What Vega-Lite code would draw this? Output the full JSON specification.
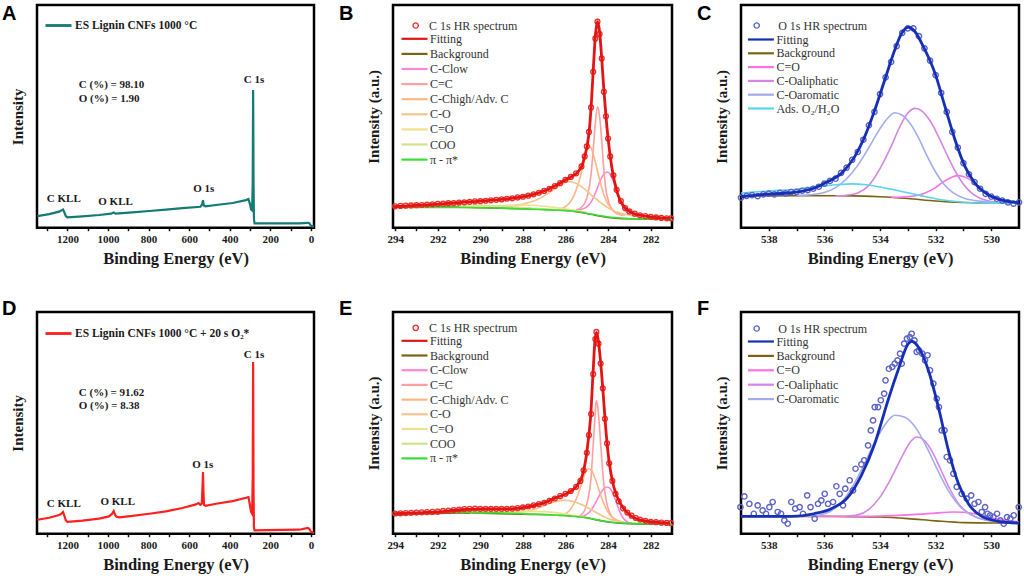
{
  "$schema": "https://vega.github.io/schema/vega-lite/v6.json",
  "background": "white",
  "padding": {"left": 0, "top": 2, "right": 0, "bottom": 0},
  "config": {
    "view": {"stroke": "black", "strokeWidth": 2.5},
    "axis": {"grid": false, "domain": false, "labelFont": "Liberation Serif", "labelFontWeight": "bold", "labelFontSize": 11, "labelColor": "#1a1a1a", "titleFont": "Liberation Serif", "titleFontWeight": "bold", "titleColor": "#1a1a1a", "tickColor": "#111111", "tickWidth": 1.5, "tickSize": 3},
    "axisX": {"titleFontSize": 16.5, "labelPadding": 3, "titlePadding": 6, "labelFlush": false, "labelOverlap": false},
    "axisY": {"titleFontSize": 15, "labels": false, "ticks": false, "titlePadding": 12},
    "legend": {"labelFont": "Liberation Serif", "labelFontSize": 12, "labelColor": "#333333", "symbolSize": 100, "rowPadding": 1.5, "labelOffset": 4, "padding": 0, "labelLimit": 300},
    "title": {"font": "Liberation Sans", "fontSize": 20, "fontWeight": "bold", "color": "black", "anchor": "start", "frame": "bounds"},
    "text": {"font": "Liberation Serif", "fontWeight": "bold", "fontSize": 11, "color": "#1a1a1a", "baseline": "middle"}
  },
  "datasets": {
    "surveyA": [
      {"s":"ES Lignin CNFs 1000 °C","x":1348,"y":5.2},{"s":"ES Lignin CNFs 1000 °C","x":1290,"y":6.1},{"s":"ES Lignin CNFs 1000 °C","x":1241,"y":7.2},{"s":"ES Lignin CNFs 1000 °C","x":1228,"y":7.9},{"s":"ES Lignin CNFs 1000 °C","x":1222,"y":8.2},{"s":"ES Lignin CNFs 1000 °C","x":1215,"y":6.8},{"s":"ES Lignin CNFs 1000 °C","x":1208,"y":5.2},{"s":"ES Lignin CNFs 1000 °C","x":1200,"y":4.6},{"s":"ES Lignin CNFs 1000 °C","x":1126,"y":5.1},{"s":"ES Lignin CNFs 1000 °C","x":1044,"y":5.7},{"s":"ES Lignin CNFs 1000 °C","x":985,"y":6.3},{"s":"ES Lignin CNFs 1000 °C","x":972,"y":6.8},{"s":"ES Lignin CNFs 1000 °C","x":962,"y":6.3},{"s":"ES Lignin CNFs 1000 °C","x":880,"y":6.9},{"s":"ES Lignin CNFs 1000 °C","x":797,"y":7.5},{"s":"ES Lignin CNFs 1000 °C","x":715,"y":8.1},{"s":"ES Lignin CNFs 1000 °C","x":633,"y":8.8},{"s":"ES Lignin CNFs 1000 °C","x":545,"y":9.4},{"s":"ES Lignin CNFs 1000 °C","x":536,"y":10.5},{"s":"ES Lignin CNFs 1000 °C","x":532,"y":12.4},{"s":"ES Lignin CNFs 1000 °C","x":528,"y":10.0},{"s":"ES Lignin CNFs 1000 °C","x":520,"y":9.6},{"s":"ES Lignin CNFs 1000 °C","x":468,"y":10.2},{"s":"ES Lignin CNFs 1000 °C","x":386,"y":11.1},{"s":"ES Lignin CNFs 1000 °C","x":320,"y":12.4},{"s":"ES Lignin CNFs 1000 °C","x":308,"y":12.9},{"s":"ES Lignin CNFs 1000 °C","x":300,"y":10.5},{"s":"ES Lignin CNFs 1000 °C","x":295,"y":8.2},{"s":"ES Lignin CNFs 1000 °C","x":290,"y":7.8},{"s":"ES Lignin CNFs 1000 °C","x":287,"y":20},{"s":"ES Lignin CNFs 1000 °C","x":285,"y":61.8},{"s":"ES Lignin CNFs 1000 °C","x":284,"y":45},{"s":"ES Lignin CNFs 1000 °C","x":283,"y":20},{"s":"ES Lignin CNFs 1000 °C","x":281,"y":4},{"s":"ES Lignin CNFs 1000 °C","x":278,"y":1.9},{"s":"ES Lignin CNFs 1000 °C","x":222,"y":1.9},{"s":"ES Lignin CNFs 1000 °C","x":57,"y":1.9},{"s":"ES Lignin CNFs 1000 °C","x":16,"y":2.2},{"s":"ES Lignin CNFs 1000 °C","x":8,"y":2.0},{"s":"ES Lignin CNFs 1000 °C","x":0,"y":0.8},{"s":"ES Lignin CNFs 1000 °C","x":-15,"y":0.4}
    ],
    "annA": [
      {"k":"comp","x":1144,"y":64.1,"t":"C (%) = 98.10"},{"k":"comp","x":1144,"y":57.7,"t":"O (%) = 1.90"},{"k":"peak","x":281,"y":66.3,"t":"C 1s"},{"k":"peak","x":1218,"y":13.0,"t":"C KLL"},{"k":"peak","x":963,"y":11.4,"t":"O KLL"},{"k":"peak","x":528,"y":17.2,"t":"O 1s"}
    ],
    "surveyD": [
      {"s":"ES Lignin CNFs 1000 °C + 20 s O₂*","x":1348,"y":6.3},{"s":"ES Lignin CNFs 1000 °C + 20 s O₂*","x":1290,"y":7.2},{"s":"ES Lignin CNFs 1000 °C + 20 s O₂*","x":1241,"y":8.4},{"s":"ES Lignin CNFs 1000 °C + 20 s O₂*","x":1228,"y":9.2},{"s":"ES Lignin CNFs 1000 °C + 20 s O₂*","x":1222,"y":9.8},{"s":"ES Lignin CNFs 1000 °C + 20 s O₂*","x":1215,"y":8.0},{"s":"ES Lignin CNFs 1000 °C + 20 s O₂*","x":1208,"y":6.0},{"s":"ES Lignin CNFs 1000 °C + 20 s O₂*","x":1200,"y":5.3},{"s":"ES Lignin CNFs 1000 °C + 20 s O₂*","x":1126,"y":5.9},{"s":"ES Lignin CNFs 1000 °C + 20 s O₂*","x":1044,"y":6.8},{"s":"ES Lignin CNFs 1000 °C + 20 s O₂*","x":995,"y":7.8},{"s":"ES Lignin CNFs 1000 °C + 20 s O₂*","x":980,"y":9.0},{"s":"ES Lignin CNFs 1000 °C + 20 s O₂*","x":972,"y":10.2},{"s":"ES Lignin CNFs 1000 °C + 20 s O₂*","x":965,"y":8.5},{"s":"ES Lignin CNFs 1000 °C + 20 s O₂*","x":958,"y":7.6},{"s":"ES Lignin CNFs 1000 °C + 20 s O₂*","x":945,"y":7.4},{"s":"ES Lignin CNFs 1000 °C + 20 s O₂*","x":880,"y":8.0},{"s":"ES Lignin CNFs 1000 °C + 20 s O₂*","x":797,"y":9.0},{"s":"ES Lignin CNFs 1000 °C + 20 s O₂*","x":715,"y":10.1},{"s":"ES Lignin CNFs 1000 °C + 20 s O₂*","x":633,"y":11.6},{"s":"ES Lignin CNFs 1000 °C + 20 s O₂*","x":567,"y":13.2},{"s":"ES Lignin CNFs 1000 °C + 20 s O₂*","x":554,"y":13.8},{"s":"ES Lignin CNFs 1000 °C + 20 s O₂*","x":545,"y":13.0},{"s":"ES Lignin CNFs 1000 °C + 20 s O₂*","x":538,"y":13.5},{"s":"ES Lignin CNFs 1000 °C + 20 s O₂*","x":534,"y":22},{"s":"ES Lignin CNFs 1000 °C + 20 s O₂*","x":532,"y":27.8},{"s":"ES Lignin CNFs 1000 °C + 20 s O₂*","x":530,"y":20},{"s":"ES Lignin CNFs 1000 °C + 20 s O₂*","x":527,"y":13.0},{"s":"ES Lignin CNFs 1000 °C + 20 s O₂*","x":520,"y":12.6},{"s":"ES Lignin CNFs 1000 °C + 20 s O₂*","x":468,"y":13.5},{"s":"ES Lignin CNFs 1000 °C + 20 s O₂*","x":386,"y":14.7},{"s":"ES Lignin CNFs 1000 °C + 20 s O₂*","x":320,"y":16.2},{"s":"ES Lignin CNFs 1000 °C + 20 s O₂*","x":308,"y":16.5},{"s":"ES Lignin CNFs 1000 °C + 20 s O₂*","x":300,"y":12.5},{"s":"ES Lignin CNFs 1000 °C + 20 s O₂*","x":295,"y":9.8},{"s":"ES Lignin CNFs 1000 °C + 20 s O₂*","x":290,"y":9.0},{"s":"ES Lignin CNFs 1000 °C + 20 s O₂*","x":287,"y":25},{"s":"ES Lignin CNFs 1000 °C + 20 s O₂*","x":285,"y":77.4},{"s":"ES Lignin CNFs 1000 °C + 20 s O₂*","x":284,"y":50},{"s":"ES Lignin CNFs 1000 °C + 20 s O₂*","x":283,"y":20},{"s":"ES Lignin CNFs 1000 °C + 20 s O₂*","x":281,"y":3},{"s":"ES Lignin CNFs 1000 °C + 20 s O₂*","x":278,"y":1.5},{"s":"ES Lignin CNFs 1000 °C + 20 s O₂*","x":222,"y":1.6},{"s":"ES Lignin CNFs 1000 °C + 20 s O₂*","x":57,"y":1.8},{"s":"ES Lignin CNFs 1000 °C + 20 s O₂*","x":16,"y":2.6},{"s":"ES Lignin CNFs 1000 °C + 20 s O₂*","x":8,"y":2.2},{"s":"ES Lignin CNFs 1000 °C + 20 s O₂*","x":0,"y":0.9},{"s":"ES Lignin CNFs 1000 °C + 20 s O₂*","x":-15,"y":0.3}
    ],
    "annD": [
      {"k":"comp","x":1144,"y":63.6,"t":"C (%) = 91.62"},{"k":"comp","x":1144,"y":57.4,"t":"O (%) = 8.38"},{"k":"peak","x":281,"y":80.7,"t":"C 1s"},{"k":"peak","x":533,"y":30.8,"t":"O 1s"},{"k":"peak","x":1218,"y":13.2,"t":"C KLL"},{"k":"peak","x":952,"y":14.3,"t":"O KLL"}
    ],
    "c1sB": [
      {"s":"C 1s HR spectrum","x":294.0,"y":9.6},{"s":"C 1s HR spectrum","x":293.75,"y":9.8},{"s":"C 1s HR spectrum","x":293.5,"y":9.9},{"s":"C 1s HR spectrum","x":293.25,"y":10.0},{"s":"C 1s HR spectrum","x":293.0,"y":10.1},{"s":"C 1s HR spectrum","x":292.75,"y":10.2},{"s":"C 1s HR spectrum","x":292.5,"y":10.4},{"s":"C 1s HR spectrum","x":292.25,"y":10.5},{"s":"C 1s HR spectrum","x":292.0,"y":10.7},{"s":"C 1s HR spectrum","x":291.75,"y":10.8},{"s":"C 1s HR spectrum","x":291.5,"y":11.0},{"s":"C 1s HR spectrum","x":291.25,"y":11.1},{"s":"C 1s HR spectrum","x":291.0,"y":11.3},{"s":"C 1s HR spectrum","x":290.75,"y":11.4},{"s":"C 1s HR spectrum","x":290.5,"y":11.6},{"s":"C 1s HR spectrum","x":290.25,"y":11.8},{"s":"C 1s HR spectrum","x":290.0,"y":11.9},{"s":"C 1s HR spectrum","x":289.75,"y":12.1},{"s":"C 1s HR spectrum","x":289.5,"y":12.3},{"s":"C 1s HR spectrum","x":289.25,"y":12.5},{"s":"C 1s HR spectrum","x":289.0,"y":12.7},{"s":"C 1s HR spectrum","x":288.75,"y":13.0},{"s":"C 1s HR spectrum","x":288.5,"y":13.2},{"s":"C 1s HR spectrum","x":288.25,"y":13.6},{"s":"C 1s HR spectrum","x":288.0,"y":13.9},{"s":"C 1s HR spectrum","x":287.75,"y":14.4},{"s":"C 1s HR spectrum","x":287.5,"y":15.0},{"s":"C 1s HR spectrum","x":287.25,"y":15.7},{"s":"C 1s HR spectrum","x":287.0,"y":16.5},{"s":"C 1s HR spectrum","x":286.75,"y":17.5},{"s":"C 1s HR spectrum","x":286.5,"y":18.7},{"s":"C 1s HR spectrum","x":286.25,"y":20.0},{"s":"C 1s HR spectrum","x":286.0,"y":21.5},{"s":"C 1s HR spectrum","x":285.75,"y":22.8},{"s":"C 1s HR spectrum","x":285.5,"y":24.4},{"s":"C 1s HR spectrum","x":285.25,"y":27.5},{"s":"C 1s HR spectrum","x":285.1,"y":32.0},{"s":"C 1s HR spectrum","x":285.0,"y":36.5},{"s":"C 1s HR spectrum","x":284.9,"y":43.0},{"s":"C 1s HR spectrum","x":284.8,"y":54.0},{"s":"C 1s HR spectrum","x":284.7,"y":70.0},{"s":"C 1s HR spectrum","x":284.6,"y":85.0},{"s":"C 1s HR spectrum","x":284.5,"y":92.5},{"s":"C 1s HR spectrum","x":284.4,"y":87.0},{"s":"C 1s HR spectrum","x":284.3,"y":76.0},{"s":"C 1s HR spectrum","x":284.2,"y":61.0},{"s":"C 1s HR spectrum","x":284.1,"y":50.0},{"s":"C 1s HR spectrum","x":284.0,"y":40.0},{"s":"C 1s HR spectrum","x":283.9,"y":32.0},{"s":"C 1s HR spectrum","x":283.75,"y":23.5},{"s":"C 1s HR spectrum","x":283.6,"y":17.0},{"s":"C 1s HR spectrum","x":283.4,"y":12.0},{"s":"C 1s HR spectrum","x":283.2,"y":8.8},{"s":"C 1s HR spectrum","x":283.0,"y":7.3},{"s":"C 1s HR spectrum","x":282.75,"y":6.3},{"s":"C 1s HR spectrum","x":282.5,"y":5.6},{"s":"C 1s HR spectrum","x":282.25,"y":5.2},{"s":"C 1s HR spectrum","x":282.0,"y":4.9},{"s":"C 1s HR spectrum","x":281.75,"y":4.6},{"s":"C 1s HR spectrum","x":281.5,"y":4.4},{"s":"C 1s HR spectrum","x":281.25,"y":4.2},{"s":"C 1s HR spectrum","x":281.05,"y":4.2},
      {"s":"Fitting","x":294.08,"y":9.4},{"s":"Fitting","x":293,"y":10.0},{"s":"Fitting","x":292,"y":10.6},{"s":"Fitting","x":291,"y":11.3},{"s":"Fitting","x":290,"y":11.9},{"s":"Fitting","x":289,"y":12.7},{"s":"Fitting","x":288,"y":13.9},{"s":"Fitting","x":287.5,"y":15.0},{"s":"Fitting","x":287,"y":16.5},{"s":"Fitting","x":286.5,"y":18.7},{"s":"Fitting","x":286,"y":21.5},{"s":"Fitting","x":285.7,"y":23.0},{"s":"Fitting","x":285.43,"y":25.0},{"s":"Fitting","x":285.2,"y":28.5},{"s":"Fitting","x":285.1,"y":32.0},{"s":"Fitting","x":284.97,"y":37.5},{"s":"Fitting","x":284.87,"y":45.0},{"s":"Fitting","x":284.78,"y":57.0},{"s":"Fitting","x":284.69,"y":72.0},{"s":"Fitting","x":284.6,"y":86.0},{"s":"Fitting","x":284.5,"y":92.5},{"s":"Fitting","x":284.4,"y":88.0},{"s":"Fitting","x":284.3,"y":76.0},{"s":"Fitting","x":284.2,"y":62.0},{"s":"Fitting","x":284.1,"y":50.0},{"s":"Fitting","x":284.0,"y":40.0},{"s":"Fitting","x":283.83,"y":27.4},{"s":"Fitting","x":283.56,"y":15.4},{"s":"Fitting","x":283.25,"y":9.4},{"s":"Fitting","x":282.79,"y":6.4},{"s":"Fitting","x":282.01,"y":4.9},{"s":"Fitting","x":281.06,"y":4.2},
      {"s":"Background","x":294.1,"y":9.6},{"s":"Background","x":292,"y":9.4},{"s":"Background","x":290,"y":9.0},{"s":"Background","x":288,"y":8.5},{"s":"Background","x":286.5,"y":8.0},{"s":"Background","x":285.8,"y":7.5},{"s":"Background","x":285,"y":6.4},{"s":"Background","x":284.5,"y":5.4},{"s":"Background","x":284,"y":4.6},{"s":"Background","x":283,"y":4.0},{"s":"Background","x":281,"y":3.8},
      {"s":"C-Clow","x":285.4,"y":8.0},{"s":"C-Clow","x":285.2,"y":8.4},{"s":"C-Clow","x":285.0,"y":9.3},{"s":"C-Clow","x":284.8,"y":11.5},{"s":"C-Clow","x":284.6,"y":15.5},{"s":"C-Clow","x":284.4,"y":20.5},{"s":"C-Clow","x":284.2,"y":24.0},{"s":"C-Clow","x":284.05,"y":25.0},{"s":"C-Clow","x":283.9,"y":24.0},{"s":"C-Clow","x":283.7,"y":19.5},{"s":"C-Clow","x":283.5,"y":13.5},{"s":"C-Clow","x":283.3,"y":9.0},{"s":"C-Clow","x":283.1,"y":6.6},{"s":"C-Clow","x":282.9,"y":5.6},{"s":"C-Clow","x":282.6,"y":5.0},
      {"s":"C=C","x":285.5,"y":8.0},{"s":"C=C","x":285.3,"y":8.8},{"s":"C=C","x":285.1,"y":11.0},{"s":"C=C","x":284.95,"y":15.0},{"s":"C=C","x":284.8,"y":24.0},{"s":"C=C","x":284.7,"y":35.0},{"s":"C=C","x":284.6,"y":47.0},{"s":"C=C","x":284.5,"y":54.3},{"s":"C=C","x":284.4,"y":50.0},{"s":"C=C","x":284.3,"y":39.0},{"s":"C=C","x":284.2,"y":26.0},{"s":"C=C","x":284.1,"y":17.0},{"s":"C=C","x":283.95,"y":11.0},{"s":"C=C","x":283.8,"y":8.0},{"s":"C=C","x":283.6,"y":6.3},{"s":"C=C","x":283.3,"y":5.5},
      {"s":"C-Chigh/Adv. C","x":286.3,"y":8.3},{"s":"C-Chigh/Adv. C","x":286.0,"y":9.5},{"s":"C-Chigh/Adv. C","x":285.8,"y":11.3},{"s":"C-Chigh/Adv. C","x":285.6,"y":14.5},{"s":"C-Chigh/Adv. C","x":285.4,"y":19.8},{"s":"C-Chigh/Adv. C","x":285.2,"y":26.8},{"s":"C-Chigh/Adv. C","x":285.05,"y":33.5},{"s":"C-Chigh/Adv. C","x":284.93,"y":37.1},{"s":"C-Chigh/Adv. C","x":284.8,"y":35.8},{"s":"C-Chigh/Adv. C","x":284.6,"y":29.5},{"s":"C-Chigh/Adv. C","x":284.4,"y":21.5},{"s":"C-Chigh/Adv. C","x":284.2,"y":14.8},{"s":"C-Chigh/Adv. C","x":284.0,"y":10.6},{"s":"C-Chigh/Adv. C","x":283.8,"y":8.1},{"s":"C-Chigh/Adv. C","x":283.5,"y":6.4},{"s":"C-Chigh/Adv. C","x":283.2,"y":5.6},
      {"s":"C-O","x":288.4,"y":10.0},{"s":"C-O","x":288.0,"y":10.6},{"s":"C-O","x":287.6,"y":11.6},{"s":"C-O","x":287.2,"y":13.2},{"s":"C-O","x":286.8,"y":15.5},{"s":"C-O","x":286.4,"y":18.2},{"s":"C-O","x":286.1,"y":20.0},{"s":"C-O","x":285.9,"y":20.7},{"s":"C-O","x":285.6,"y":20.3},{"s":"C-O","x":285.3,"y":18.8},{"s":"C-O","x":285.0,"y":16.5},{"s":"C-O","x":284.7,"y":14.0},{"s":"C-O","x":284.4,"y":11.6},{"s":"C-O","x":284.1,"y":9.5},{"s":"C-O","x":283.8,"y":7.9},{"s":"C-O","x":283.5,"y":6.8},{"s":"C-O","x":283.1,"y":5.8},{"s":"C-O","x":282.7,"y":5.2},
      {"s":"C=O","x":291,"y":9.3},{"s":"C=O","x":290,"y":9.5},{"s":"C=O","x":289,"y":9.9},{"s":"C=O","x":288.3,"y":10.2},{"s":"C=O","x":287.6,"y":10.1},{"s":"C=O","x":287,"y":9.6},{"s":"C=O","x":286.3,"y":8.8},{"s":"C=O","x":285.6,"y":7.8},{"s":"C=O","x":285,"y":6.9},
      {"s":"COO","x":293.5,"y":9.5},{"s":"COO","x":292.5,"y":9.8},{"s":"COO","x":291.5,"y":10.1},{"s":"COO","x":290.5,"y":10.2},{"s":"COO","x":289.5,"y":10.0},{"s":"COO","x":288.5,"y":9.4},{"s":"COO","x":287.5,"y":8.7},{"s":"COO","x":286.5,"y":8.1},{"s":"COO","x":285.5,"y":7.4},
      {"s":"π - π*","x":294.1,"y":9.1},{"s":"π - π*","x":292,"y":9.1},{"s":"π - π*","x":290.5,"y":9.1},{"s":"π - π*","x":289,"y":8.8},{"s":"π - π*","x":287.5,"y":8.3},{"s":"π - π*","x":286.5,"y":7.9},{"s":"π - π*","x":285.8,"y":7.6},{"s":"π - π*","x":285,"y":6.5},{"s":"π - π*","x":284.5,"y":5.6},{"s":"π - π*","x":284,"y":4.8},{"s":"π - π*","x":283.2,"y":4.2},{"s":"π - π*","x":282,"y":3.9},{"s":"π - π*","x":281,"y":3.8}
    ],
    "c1sE": [
      {"s":"C 1s HR spectrum","x":294.0,"y":8.6},{"s":"C 1s HR spectrum","x":293.75,"y":8.7},{"s":"C 1s HR spectrum","x":293.5,"y":8.8},{"s":"C 1s HR spectrum","x":293.25,"y":8.9},{"s":"C 1s HR spectrum","x":293.0,"y":9.0},{"s":"C 1s HR spectrum","x":292.75,"y":9.1},{"s":"C 1s HR spectrum","x":292.5,"y":9.2},{"s":"C 1s HR spectrum","x":292.25,"y":9.3},{"s":"C 1s HR spectrum","x":292.0,"y":9.4},{"s":"C 1s HR spectrum","x":291.75,"y":9.7},{"s":"C 1s HR spectrum","x":291.5,"y":9.9},{"s":"C 1s HR spectrum","x":291.25,"y":10.1},{"s":"C 1s HR spectrum","x":291.0,"y":10.3},{"s":"C 1s HR spectrum","x":290.75,"y":10.5},{"s":"C 1s HR spectrum","x":290.5,"y":10.6},{"s":"C 1s HR spectrum","x":290.25,"y":10.7},{"s":"C 1s HR spectrum","x":290.0,"y":10.6},{"s":"C 1s HR spectrum","x":289.75,"y":10.6},{"s":"C 1s HR spectrum","x":289.5,"y":10.6},{"s":"C 1s HR spectrum","x":289.25,"y":10.6},{"s":"C 1s HR spectrum","x":289.0,"y":10.6},{"s":"C 1s HR spectrum","x":288.75,"y":10.6},{"s":"C 1s HR spectrum","x":288.5,"y":10.7},{"s":"C 1s HR spectrum","x":288.25,"y":10.9},{"s":"C 1s HR spectrum","x":288.0,"y":11.2},{"s":"C 1s HR spectrum","x":287.75,"y":11.6},{"s":"C 1s HR spectrum","x":287.5,"y":12.1},{"s":"C 1s HR spectrum","x":287.25,"y":12.6},{"s":"C 1s HR spectrum","x":287.0,"y":13.2},{"s":"C 1s HR spectrum","x":286.75,"y":14.0},{"s":"C 1s HR spectrum","x":286.5,"y":15.0},{"s":"C 1s HR spectrum","x":286.25,"y":16.0},{"s":"C 1s HR spectrum","x":286.0,"y":17.0},{"s":"C 1s HR spectrum","x":285.75,"y":18.2},{"s":"C 1s HR spectrum","x":285.5,"y":20.0},{"s":"C 1s HR spectrum","x":285.3,"y":22.5},{"s":"C 1s HR spectrum","x":285.15,"y":27.0},{"s":"C 1s HR spectrum","x":285.0,"y":34.5},{"s":"C 1s HR spectrum","x":284.9,"y":42.0},{"s":"C 1s HR spectrum","x":284.8,"y":51.0},{"s":"C 1s HR spectrum","x":284.7,"y":68.0},{"s":"C 1s HR spectrum","x":284.6,"y":83.0},{"s":"C 1s HR spectrum","x":284.55,"y":86.0},{"s":"C 1s HR spectrum","x":284.45,"y":81.0},{"s":"C 1s HR spectrum","x":284.35,"y":72.5},{"s":"C 1s HR spectrum","x":284.25,"y":62.0},{"s":"C 1s HR spectrum","x":284.15,"y":49.0},{"s":"C 1s HR spectrum","x":284.05,"y":38.5},{"s":"C 1s HR spectrum","x":283.95,"y":30.0},{"s":"C 1s HR spectrum","x":283.8,"y":22.5},{"s":"C 1s HR spectrum","x":283.65,"y":17.0},{"s":"C 1s HR spectrum","x":283.5,"y":13.8},{"s":"C 1s HR spectrum","x":283.3,"y":10.8},{"s":"C 1s HR spectrum","x":283.1,"y":9.0},{"s":"C 1s HR spectrum","x":282.9,"y":7.7},{"s":"C 1s HR spectrum","x":282.7,"y":6.7},{"s":"C 1s HR spectrum","x":282.5,"y":6.0},{"s":"C 1s HR spectrum","x":282.25,"y":5.5},{"s":"C 1s HR spectrum","x":282.0,"y":5.1},{"s":"C 1s HR spectrum","x":281.75,"y":4.9},{"s":"C 1s HR spectrum","x":281.5,"y":4.7},{"s":"C 1s HR spectrum","x":281.25,"y":4.6},{"s":"C 1s HR spectrum","x":281.05,"y":4.5},
      {"s":"Fitting","x":294.06,"y":8.5},{"s":"Fitting","x":293,"y":8.9},{"s":"Fitting","x":292.0,"y":9.3},{"s":"Fitting","x":290.94,"y":10.2},{"s":"Fitting","x":289.9,"y":10.6},{"s":"Fitting","x":288.6,"y":10.6},{"s":"Fitting","x":287.87,"y":11.3},{"s":"Fitting","x":287.07,"y":13.0},{"s":"Fitting","x":286.45,"y":15.3},{"s":"Fitting","x":285.83,"y":17.7},{"s":"Fitting","x":285.52,"y":19.9},{"s":"Fitting","x":285.21,"y":24.8},{"s":"Fitting","x":285.05,"y":31.5},{"s":"Fitting","x":284.95,"y":38.5},{"s":"Fitting","x":284.82,"y":50.0},{"s":"Fitting","x":284.71,"y":68.0},{"s":"Fitting","x":284.62,"y":82.0},{"s":"Fitting","x":284.55,"y":85.8},{"s":"Fitting","x":284.47,"y":83.0},{"s":"Fitting","x":284.36,"y":74.0},{"s":"Fitting","x":284.23,"y":59.6},{"s":"Fitting","x":284.12,"y":46.0},{"s":"Fitting","x":283.96,"y":31.2},{"s":"Fitting","x":283.73,"y":19.9},{"s":"Fitting","x":283.42,"y":12.8},{"s":"Fitting","x":283.04,"y":8.5},{"s":"Fitting","x":282.42,"y":5.7},{"s":"Fitting","x":281.1,"y":4.5},
      {"s":"Background","x":294.1,"y":7.9},{"s":"Background","x":292.5,"y":8.5},{"s":"Background","x":291,"y":8.8},{"s":"Background","x":290,"y":8.7},{"s":"Background","x":288,"y":8.3},{"s":"Background","x":286,"y":7.8},{"s":"Background","x":285,"y":6.8},{"s":"Background","x":284.5,"y":5.8},{"s":"Background","x":284,"y":5.0},{"s":"Background","x":283,"y":4.3},{"s":"Background","x":281,"y":4.0},
      {"s":"C-Clow","x":285.4,"y":7.0},{"s":"C-Clow","x":285.2,"y":7.4},{"s":"C-Clow","x":285.0,"y":8.2},{"s":"C-Clow","x":284.8,"y":10.0},{"s":"C-Clow","x":284.6,"y":13.0},{"s":"C-Clow","x":284.4,"y":16.5},{"s":"C-Clow","x":284.2,"y":19.2},{"s":"C-Clow","x":284.05,"y":19.9},{"s":"C-Clow","x":283.9,"y":19.2},{"s":"C-Clow","x":283.7,"y":15.5},{"s":"C-Clow","x":283.5,"y":10.5},{"s":"C-Clow","x":283.3,"y":6.8},{"s":"C-Clow","x":283.1,"y":5.0},{"s":"C-Clow","x":282.9,"y":4.4},
      {"s":"C=C","x":285.5,"y":7.0},{"s":"C=C","x":285.3,"y":7.8},{"s":"C=C","x":285.1,"y":10.0},{"s":"C=C","x":284.95,"y":14.5},{"s":"C=C","x":284.8,"y":24.0},{"s":"C=C","x":284.7,"y":38.0},{"s":"C=C","x":284.6,"y":52.0},{"s":"C=C","x":284.56,"y":56.7},{"s":"C=C","x":284.5,"y":55.0},{"s":"C=C","x":284.4,"y":45.0},{"s":"C=C","x":284.3,"y":32.0},{"s":"C=C","x":284.2,"y":21.0},{"s":"C=C","x":284.05,"y":12.5},{"s":"C=C","x":283.9,"y":8.5},{"s":"C=C","x":283.7,"y":6.2},{"s":"C=C","x":283.4,"y":5.2},
      {"s":"C-Chigh/Adv. C","x":286.3,"y":7.5},{"s":"C-Chigh/Adv. C","x":286.0,"y":8.5},{"s":"C-Chigh/Adv. C","x":285.8,"y":10.0},{"s":"C-Chigh/Adv. C","x":285.6,"y":12.8},{"s":"C-Chigh/Adv. C","x":285.4,"y":17.0},{"s":"C-Chigh/Adv. C","x":285.2,"y":22.5},{"s":"C-Chigh/Adv. C","x":285.05,"y":26.5},{"s":"C-Chigh/Adv. C","x":284.9,"y":27.7},{"s":"C-Chigh/Adv. C","x":284.75,"y":26.5},{"s":"C-Chigh/Adv. C","x":284.55,"y":22.0},{"s":"C-Chigh/Adv. C","x":284.35,"y":16.5},{"s":"C-Chigh/Adv. C","x":284.15,"y":11.8},{"s":"C-Chigh/Adv. C","x":283.95,"y":8.5},{"s":"C-Chigh/Adv. C","x":283.75,"y":6.5},{"s":"C-Chigh/Adv. C","x":283.5,"y":5.3},{"s":"C-Chigh/Adv. C","x":283.2,"y":4.7},
      {"s":"C-O","x":288.3,"y":9.0},{"s":"C-O","x":287.8,"y":9.6},{"s":"C-O","x":287.3,"y":10.8},{"s":"C-O","x":286.9,"y":12.3},{"s":"C-O","x":286.5,"y":13.6},{"s":"C-O","x":286.06,"y":14.2},{"s":"C-O","x":285.6,"y":13.6},{"s":"C-O","x":285.2,"y":12.2},{"s":"C-O","x":284.8,"y":10.3},{"s":"C-O","x":284.4,"y":8.2},{"s":"C-O","x":284.0,"y":6.5},{"s":"C-O","x":283.6,"y":5.4},{"s":"C-O","x":283.2,"y":4.8},
      {"s":"C=O","x":290.5,"y":8.9},{"s":"C=O","x":289.5,"y":9.1},{"s":"C=O","x":288.5,"y":9.4},{"s":"C=O","x":287.8,"y":9.6},{"s":"C=O","x":287,"y":9.4},{"s":"C=O","x":286.3,"y":8.8},{"s":"C=O","x":285.6,"y":7.8},{"s":"C=O","x":285,"y":6.9},
      {"s":"COO","x":293.5,"y":8.4},{"s":"COO","x":292.5,"y":9.0},{"s":"COO","x":291.5,"y":9.6},{"s":"COO","x":290.8,"y":9.9},{"s":"COO","x":290,"y":9.8},{"s":"COO","x":289,"y":9.3},{"s":"COO","x":288,"y":8.7},{"s":"COO","x":287,"y":8.2},{"s":"COO","x":286,"y":7.8},
      {"s":"π - π*","x":294.1,"y":8.0},{"s":"π - π*","x":293,"y":8.5},{"s":"π - π*","x":292,"y":9.0},{"s":"π - π*","x":291,"y":9.3},{"s":"π - π*","x":290,"y":9.1},{"s":"π - π*","x":289,"y":8.8},{"s":"π - π*","x":288,"y":8.5},{"s":"π - π*","x":286.5,"y":8.0},{"s":"π - π*","x":285.5,"y":7.3},{"s":"π - π*","x":285,"y":6.8},{"s":"π - π*","x":284.5,"y":5.9},{"s":"π - π*","x":284,"y":5.1},{"s":"π - π*","x":283,"y":4.4},{"s":"π - π*","x":281,"y":4.0}
    ],
    "o1sC": [
      {"s":"O 1s HR spectrum","x":539.0,"y":13.5},{"s":"O 1s HR spectrum","x":538.8,"y":14.3},{"s":"O 1s HR spectrum","x":538.6,"y":14.6},{"s":"O 1s HR spectrum","x":538.4,"y":14.2},{"s":"O 1s HR spectrum","x":538.2,"y":15.0},{"s":"O 1s HR spectrum","x":538.0,"y":15.3},{"s":"O 1s HR spectrum","x":537.8,"y":15.0},{"s":"O 1s HR spectrum","x":537.6,"y":15.6},{"s":"O 1s HR spectrum","x":537.4,"y":15.4},{"s":"O 1s HR spectrum","x":537.2,"y":16.0},{"s":"O 1s HR spectrum","x":537.0,"y":16.1},{"s":"O 1s HR spectrum","x":536.8,"y":16.6},{"s":"O 1s HR spectrum","x":536.6,"y":16.9},{"s":"O 1s HR spectrum","x":536.4,"y":17.5},{"s":"O 1s HR spectrum","x":536.2,"y":18.4},{"s":"O 1s HR spectrum","x":536.0,"y":19.8},{"s":"O 1s HR spectrum","x":535.8,"y":21.0},{"s":"O 1s HR spectrum","x":535.6,"y":22.0},{"s":"O 1s HR spectrum","x":535.4,"y":24.6},{"s":"O 1s HR spectrum","x":535.2,"y":27.0},{"s":"O 1s HR spectrum","x":535.0,"y":30.5},{"s":"O 1s HR spectrum","x":534.8,"y":34.0},{"s":"O 1s HR spectrum","x":534.6,"y":39.5},{"s":"O 1s HR spectrum","x":534.4,"y":46.0},{"s":"O 1s HR spectrum","x":534.2,"y":52.0},{"s":"O 1s HR spectrum","x":534.0,"y":60.0},{"s":"O 1s HR spectrum","x":533.8,"y":67.5},{"s":"O 1s HR spectrum","x":533.6,"y":74.5},{"s":"O 1s HR spectrum","x":533.4,"y":81.5},{"s":"O 1s HR spectrum","x":533.2,"y":87.5},{"s":"O 1s HR spectrum","x":533.0,"y":89.5},{"s":"O 1s HR spectrum","x":532.8,"y":89.5},{"s":"O 1s HR spectrum","x":532.6,"y":86.0},{"s":"O 1s HR spectrum","x":532.4,"y":80.5},{"s":"O 1s HR spectrum","x":532.2,"y":75.0},{"s":"O 1s HR spectrum","x":532.0,"y":68.5},{"s":"O 1s HR spectrum","x":531.8,"y":60.5},{"s":"O 1s HR spectrum","x":531.6,"y":52.0},{"s":"O 1s HR spectrum","x":531.4,"y":43.0},{"s":"O 1s HR spectrum","x":531.2,"y":36.0},{"s":"O 1s HR spectrum","x":531.0,"y":29.0},{"s":"O 1s HR spectrum","x":530.8,"y":24.0},{"s":"O 1s HR spectrum","x":530.6,"y":20.5},{"s":"O 1s HR spectrum","x":530.4,"y":17.5},{"s":"O 1s HR spectrum","x":530.2,"y":15.2},{"s":"O 1s HR spectrum","x":530.0,"y":14.0},{"s":"O 1s HR spectrum","x":529.8,"y":13.0},{"s":"O 1s HR spectrum","x":529.6,"y":12.2},{"s":"O 1s HR spectrum","x":529.4,"y":11.4},{"s":"O 1s HR spectrum","x":529.2,"y":10.8},{"s":"O 1s HR spectrum","x":529.0,"y":11.4},
      {"s":"Fitting","x":539.0,"y":13.9},{"s":"Fitting","x":538.16,"y":15.0},{"s":"Fitting","x":537.19,"y":15.7},{"s":"Fitting","x":536.38,"y":17.7},{"s":"Fitting","x":535.87,"y":20.7},{"s":"Fitting","x":535.39,"y":24.4},{"s":"Fitting","x":534.91,"y":31.9},{"s":"Fitting","x":534.55,"y":40.9},{"s":"Fitting","x":534.19,"y":52.8},{"s":"Fitting","x":533.83,"y":66.3},{"s":"Fitting","x":533.47,"y":79.8},{"s":"Fitting","x":533.22,"y":87.3},{"s":"Fitting","x":532.98,"y":90.0},{"s":"Fitting","x":532.74,"y":88.0},{"s":"Fitting","x":532.44,"y":81.3},{"s":"Fitting","x":532.02,"y":69.3},{"s":"Fitting","x":531.66,"y":54.3},{"s":"Fitting","x":531.3,"y":39.4},{"s":"Fitting","x":530.94,"y":27.4},{"s":"Fitting","x":530.58,"y":19.9},{"s":"Fitting","x":530.09,"y":14.7},{"s":"Fitting","x":529.61,"y":12.4},{"s":"Fitting","x":528.99,"y":11.2},
      {"s":"Background","x":539,"y":14.2},{"s":"Background","x":537,"y":14.4},{"s":"Background","x":535,"y":14.3},{"s":"Background","x":534,"y":13.9},{"s":"Background","x":533,"y":13.1},{"s":"Background","x":532,"y":12.0},{"s":"Background","x":531,"y":11.3},{"s":"Background","x":530,"y":11.0},{"s":"Background","x":529,"y":11.0},
      {"s":"C=O","x":533.6,"y":13.7},{"s":"C=O","x":533.2,"y":13.8},{"s":"C=O","x":532.8,"y":14.2},{"s":"C=O","x":532.4,"y":15.5},{"s":"C=O","x":532.0,"y":18.0},{"s":"C=O","x":531.7,"y":20.8},{"s":"C=O","x":531.4,"y":22.8},{"s":"C=O","x":531.2,"y":23.4},{"s":"C=O","x":531.0,"y":23.0},{"s":"C=O","x":530.7,"y":21.0},{"s":"C=O","x":530.4,"y":17.8},{"s":"C=O","x":530.1,"y":14.8},{"s":"C=O","x":529.8,"y":12.8},{"s":"C=O","x":529.5,"y":11.8},{"s":"C=O","x":529.0,"y":11.2},
      {"s":"C-Oaliphatic","x":535.6,"y":14.3},{"s":"C-Oaliphatic","x":535.2,"y":14.6},{"s":"C-Oaliphatic","x":534.8,"y":15.6},{"s":"C-Oaliphatic","x":534.4,"y":19.0},{"s":"C-Oaliphatic","x":534.0,"y":26.5},{"s":"C-Oaliphatic","x":533.6,"y":36.5},{"s":"C-Oaliphatic","x":533.3,"y":45.0},{"s":"C-Oaliphatic","x":533.0,"y":51.5},{"s":"C-Oaliphatic","x":532.74,"y":53.6},{"s":"C-Oaliphatic","x":532.5,"y":52.5},{"s":"C-Oaliphatic","x":532.2,"y":48.0},{"s":"C-Oaliphatic","x":531.9,"y":41.0},{"s":"C-Oaliphatic","x":531.6,"y":33.0},{"s":"C-Oaliphatic","x":531.3,"y":25.5},{"s":"C-Oaliphatic","x":531.0,"y":19.5},{"s":"C-Oaliphatic","x":530.7,"y":15.5},{"s":"C-Oaliphatic","x":530.4,"y":13.2},{"s":"C-Oaliphatic","x":530.0,"y":11.8},{"s":"C-Oaliphatic","x":529.6,"y":11.2},{"s":"C-Oaliphatic","x":529.2,"y":11.0},
      {"s":"C-Oaromatic","x":537,"y":14.4},{"s":"C-Oaromatic","x":536.5,"y":14.8},{"s":"C-Oaromatic","x":536,"y":15.8},{"s":"C-Oaromatic","x":535.6,"y":18.0},{"s":"C-Oaromatic","x":535.2,"y":22.0},{"s":"C-Oaromatic","x":534.8,"y":28.0},{"s":"C-Oaromatic","x":534.4,"y":36.0},{"s":"C-Oaromatic","x":534.0,"y":44.5},{"s":"C-Oaromatic","x":533.7,"y":49.5},{"s":"C-Oaromatic","x":533.47,"y":51.6},{"s":"C-Oaromatic","x":533.2,"y":50.5},{"s":"C-Oaromatic","x":532.9,"y":46.5},{"s":"C-Oaromatic","x":532.6,"y":40.0},{"s":"C-Oaromatic","x":532.3,"y":32.0},{"s":"C-Oaromatic","x":532.0,"y":25.0},{"s":"C-Oaromatic","x":531.7,"y":19.5},{"s":"C-Oaromatic","x":531.4,"y":16.0},{"s":"C-Oaromatic","x":531.0,"y":13.3},{"s":"C-Oaromatic","x":530.6,"y":12.2},{"s":"C-Oaromatic","x":530.2,"y":11.7},{"s":"C-Oaromatic","x":529.8,"y":11.3},{"s":"C-Oaromatic","x":529.3,"y":11.1},
      {"s":"Ads. O₂/H₂O","x":539,"y":15.6},{"s":"Ads. O₂/H₂O","x":538,"y":16.5},{"s":"Ads. O₂/H₂O","x":537,"y":17.3},{"s":"Ads. O₂/H₂O","x":536,"y":18.8},{"s":"Ads. O₂/H₂O","x":535.5,"y":19.4},{"s":"Ads. O₂/H₂O","x":535,"y":19.7},{"s":"Ads. O₂/H₂O","x":534.5,"y":19.3},{"s":"Ads. O₂/H₂O","x":534,"y":18.3},{"s":"Ads. O₂/H₂O","x":533.5,"y":17.0},{"s":"Ads. O₂/H₂O","x":533,"y":15.7},{"s":"Ads. O₂/H₂O","x":532.5,"y":14.3},{"s":"Ads. O₂/H₂O","x":532,"y":13.0},{"s":"Ads. O₂/H₂O","x":531.5,"y":12.1},{"s":"Ads. O₂/H₂O","x":531,"y":11.4},{"s":"Ads. O₂/H₂O","x":530,"y":11.0},{"s":"Ads. O₂/H₂O","x":529,"y":11.0}
    ],
    "o1sF": [
      {"s":"O 1s HR spectrum","x":539.02,"y":12.0},{"s":"O 1s HR spectrum","x":538.88,"y":16.8},{"s":"O 1s HR spectrum","x":538.70,"y":13.5},{"s":"O 1s HR spectrum","x":538.54,"y":9.0},{"s":"O 1s HR spectrum","x":538.40,"y":12.8},{"s":"O 1s HR spectrum","x":538.22,"y":10.5},{"s":"O 1s HR spectrum","x":538.10,"y":9.0},{"s":"O 1s HR spectrum","x":537.98,"y":12.0},{"s":"O 1s HR spectrum","x":537.86,"y":14.3},{"s":"O 1s HR spectrum","x":537.68,"y":9.8},{"s":"O 1s HR spectrum","x":537.56,"y":9.0},{"s":"O 1s HR spectrum","x":537.44,"y":6.0},{"s":"O 1s HR spectrum","x":537.32,"y":4.5},{"s":"O 1s HR spectrum","x":537.19,"y":14.3},{"s":"O 1s HR spectrum","x":537.05,"y":11.3},{"s":"O 1s HR spectrum","x":536.89,"y":12.0},{"s":"O 1s HR spectrum","x":536.77,"y":9.0},{"s":"O 1s HR spectrum","x":536.62,"y":17.3},{"s":"O 1s HR spectrum","x":536.50,"y":12.0},{"s":"O 1s HR spectrum","x":536.35,"y":6.8},{"s":"O 1s HR spectrum","x":536.23,"y":13.5},{"s":"O 1s HR spectrum","x":536.11,"y":15.0},{"s":"O 1s HR spectrum","x":535.99,"y":18.0},{"s":"O 1s HR spectrum","x":535.87,"y":13.5},{"s":"O 1s HR spectrum","x":535.69,"y":14.3},{"s":"O 1s HR spectrum","x":535.57,"y":21.4},{"s":"O 1s HR spectrum","x":535.45,"y":18.0},{"s":"O 1s HR spectrum","x":535.33,"y":12.8},{"s":"O 1s HR spectrum","x":535.25,"y":20.3},{"s":"O 1s HR spectrum","x":535.09,"y":24.1},{"s":"O 1s HR spectrum","x":534.97,"y":19.5},{"s":"O 1s HR spectrum","x":534.88,"y":29.3},{"s":"O 1s HR spectrum","x":534.67,"y":31.3},{"s":"O 1s HR spectrum","x":534.57,"y":33.1},{"s":"O 1s HR spectrum","x":534.43,"y":39.8},{"s":"O 1s HR spectrum","x":534.33,"y":46.6},{"s":"O 1s HR spectrum","x":534.25,"y":51.1},{"s":"O 1s HR spectrum","x":534.19,"y":57.1},{"s":"O 1s HR spectrum","x":534.07,"y":57.1},{"s":"O 1s HR spectrum","x":533.97,"y":60.2},{"s":"O 1s HR spectrum","x":533.85,"y":63.2},{"s":"O 1s HR spectrum","x":533.80,"y":69.2},{"s":"O 1s HR spectrum","x":533.68,"y":74.4},{"s":"O 1s HR spectrum","x":533.56,"y":75.2},{"s":"O 1s HR spectrum","x":533.47,"y":76.7},{"s":"O 1s HR spectrum","x":533.37,"y":78.2},{"s":"O 1s HR spectrum","x":533.28,"y":81.2},{"s":"O 1s HR spectrum","x":533.22,"y":76.7},{"s":"O 1s HR spectrum","x":533.13,"y":85.7},{"s":"O 1s HR spectrum","x":533.03,"y":88.0},{"s":"O 1s HR spectrum","x":532.93,"y":88.7},{"s":"O 1s HR spectrum","x":532.86,"y":90.2},{"s":"O 1s HR spectrum","x":532.76,"y":87.2},{"s":"O 1s HR spectrum","x":532.68,"y":82.0},{"s":"O 1s HR spectrum","x":532.60,"y":82.7},{"s":"O 1s HR spectrum","x":532.48,"y":81.2},{"s":"O 1s HR spectrum","x":532.38,"y":78.2},{"s":"O 1s HR spectrum","x":532.29,"y":80.5},{"s":"O 1s HR spectrum","x":532.20,"y":73.7},{"s":"O 1s HR spectrum","x":532.08,"y":67.7},{"s":"O 1s HR spectrum","x":531.96,"y":60.9},{"s":"O 1s HR spectrum","x":531.88,"y":57.1},{"s":"O 1s HR spectrum","x":531.78,"y":46.6},{"s":"O 1s HR spectrum","x":531.68,"y":46.6},{"s":"O 1s HR spectrum","x":531.60,"y":34.6},{"s":"O 1s HR spectrum","x":531.48,"y":33.1},{"s":"O 1s HR spectrum","x":531.36,"y":27.1},{"s":"O 1s HR spectrum","x":531.24,"y":21.1},{"s":"O 1s HR spectrum","x":531.06,"y":18.0},{"s":"O 1s HR spectrum","x":530.88,"y":15.8},{"s":"O 1s HR spectrum","x":530.72,"y":17.3},{"s":"O 1s HR spectrum","x":530.60,"y":13.5},{"s":"O 1s HR spectrum","x":530.46,"y":14.3},{"s":"O 1s HR spectrum","x":530.34,"y":9.8},{"s":"O 1s HR spectrum","x":530.22,"y":12.0},{"s":"O 1s HR spectrum","x":530.13,"y":9.0},{"s":"O 1s HR spectrum","x":530.04,"y":8.3},{"s":"O 1s HR spectrum","x":529.92,"y":7.5},{"s":"O 1s HR spectrum","x":529.79,"y":9.0},{"s":"O 1s HR spectrum","x":529.67,"y":6.0},{"s":"O 1s HR spectrum","x":529.55,"y":4.5},{"s":"O 1s HR spectrum","x":529.43,"y":7.5},{"s":"O 1s HR spectrum","x":529.31,"y":6.8},{"s":"O 1s HR spectrum","x":529.19,"y":8.3},{"s":"O 1s HR spectrum","x":529.01,"y":12.0},
      {"s":"Fitting","x":539,"y":7.8},{"s":"Fitting","x":537.19,"y":7.8},{"s":"Fitting","x":536.38,"y":9.0},{"s":"Fitting","x":535.75,"y":11.3},{"s":"Fitting","x":535.15,"y":16.5},{"s":"Fitting","x":534.67,"y":26.3},{"s":"Fitting","x":534.19,"y":40.6},{"s":"Fitting","x":533.71,"y":60.2},{"s":"Fitting","x":533.35,"y":73.7},{"s":"Fitting","x":532.98,"y":85.7},{"s":"Fitting","x":532.86,"y":86.8},{"s":"Fitting","x":532.62,"y":84.2},{"s":"Fitting","x":532.26,"y":73.7},{"s":"Fitting","x":531.9,"y":57.1},{"s":"Fitting","x":531.54,"y":37.6},{"s":"Fitting","x":531.18,"y":22.6},{"s":"Fitting","x":530.82,"y":13.5},{"s":"Fitting","x":530.34,"y":7.8},{"s":"Fitting","x":529.74,"y":5.6},{"s":"Fitting","x":528.99,"y":4.8},
      {"s":"Background","x":539,"y":7.8},{"s":"Background","x":536,"y":7.8},{"s":"Background","x":535,"y":7.7},{"s":"Background","x":534,"y":7.5},{"s":"Background","x":533,"y":6.8},{"s":"Background","x":532,"y":5.8},{"s":"Background","x":531,"y":5.0},{"s":"Background","x":530,"y":4.8},{"s":"Background","x":529,"y":4.8},
      {"s":"C=O","x":539,"y":7.9},{"s":"C=O","x":536,"y":7.9},{"s":"C=O","x":535,"y":7.8},{"s":"C=O","x":534,"y":8.0},{"s":"C=O","x":533,"y":8.5},{"s":"C=O","x":532,"y":9.3},{"s":"C=O","x":531.4,"y":9.8},{"s":"C=O","x":531,"y":9.7},{"s":"C=O","x":530.5,"y":8.8},{"s":"C=O","x":530,"y":7.2},{"s":"C=O","x":529.5,"y":6.0},{"s":"C=O","x":529,"y":5.3},
      {"s":"C-Oaliphatic","x":535.2,"y":7.9},{"s":"C-Oaliphatic","x":534.8,"y":8.5},{"s":"C-Oaliphatic","x":534.4,"y":11.0},{"s":"C-Oaliphatic","x":534.0,"y":16.5},{"s":"C-Oaliphatic","x":533.6,"y":25.0},{"s":"C-Oaliphatic","x":533.2,"y":35.0},{"s":"C-Oaliphatic","x":532.9,"y":41.5},{"s":"C-Oaliphatic","x":532.68,"y":43.6},{"s":"C-Oaliphatic","x":532.4,"y":42.0},{"s":"C-Oaliphatic","x":532.1,"y":36.5},{"s":"C-Oaliphatic","x":531.8,"y":28.5},{"s":"C-Oaliphatic","x":531.5,"y":20.5},{"s":"C-Oaliphatic","x":531.2,"y":14.0},{"s":"C-Oaliphatic","x":530.9,"y":10.0},{"s":"C-Oaliphatic","x":530.5,"y":7.2},{"s":"C-Oaliphatic","x":530.0,"y":5.8},{"s":"C-Oaliphatic","x":529.5,"y":5.3},
      {"s":"C-Oaromatic","x":536.6,"y":7.8},{"s":"C-Oaromatic","x":536.2,"y":8.3},{"s":"C-Oaromatic","x":535.8,"y":10.0},{"s":"C-Oaromatic","x":535.4,"y":14.0},{"s":"C-Oaromatic","x":535.0,"y":21.0},{"s":"C-Oaromatic","x":534.6,"y":30.5},{"s":"C-Oaromatic","x":534.2,"y":41.0},{"s":"C-Oaromatic","x":533.8,"y":49.5},{"s":"C-Oaromatic","x":533.47,"y":53.4},{"s":"C-Oaromatic","x":533.1,"y":52.5},{"s":"C-Oaromatic","x":532.7,"y":47.5},{"s":"C-Oaromatic","x":532.3,"y":38.5},{"s":"C-Oaromatic","x":531.9,"y":28.0},{"s":"C-Oaromatic","x":531.5,"y":18.5},{"s":"C-Oaromatic","x":531.1,"y":12.0},{"s":"C-Oaromatic","x":530.7,"y":8.5},{"s":"C-Oaromatic","x":530.3,"y":6.5},{"s":"C-Oaromatic","x":529.9,"y":5.6},{"s":"C-Oaromatic","x":529.4,"y":5.2}
    ]
  },
  "columns": 3,
  "spacing": {"row": 28, "column": 17},
  "resolve": {"scale": {"color": "independent", "shape": "independent", "x": "independent", "y": "independent"}, "legend": {"color": "independent", "shape": "independent"}},
  "concat": [
    {
      "width": 277, "height": 222.7,
      "title": {"text": "A", "offset": -19, "dx": -8},
      "encoding": {
        "x": {"field": "x", "type": "quantitative", "scale": {"domain": [-15, 1350], "reverse": true, "nice": false, "zero": false}, "axis": {"title": "Binding Energy (eV)", "values": [0,100,200,300,400,500,600,700,800,900,1000,1100,1200,1300], "format": "d", "labelExpr": "datum.value % 200 == 0 ? datum.label : ''"}},
        "y": {"field": "y", "type": "quantitative", "scale": {"domain": [0, 100], "nice": false}, "axis": {"title": "Intensity"}}
      },
      "layer": [
        {"data": {"name": "surveyA"}, "mark": {"type": "line", "strokeWidth": 2.2},
         "encoding": {"color": {"field": "s", "type": "nominal", "scale": {"domain": ["ES Lignin CNFs 1000 °C"], "range": ["#137a75"]},
           "legend": {"title": null, "orient": "none", "legendX": 23, "legendY": 14, "labelOffset": 2, "labelFontWeight": "bold", "labelFontSize": 11.5, "labelColor": "#1a1a1a",
             "encode": {"symbols": {"update": {"shape": {"value": "M-4.2,0H1"}, "strokeWidth": {"value": 2.8}, "fill": {"value": "transparent"}}}}}}}},
        {"data": {"name": "annA"}, "transform": [{"filter": "datum.k == 'comp'"}], "mark": {"type": "text", "align": "left"}, "encoding": {"text": {"field": "t"}}},
        {"data": {"name": "annA"}, "transform": [{"filter": "datum.k == 'peak'"}], "mark": {"type": "text", "align": "center"}, "encoding": {"text": {"field": "t"}}}
      ]
    },
    {
      "width": 279, "height": 222.7,
      "title": {"text": "B", "offset": -19, "dx": -27},
      "data": {"name": "c1sB"},
      "encoding": {
        "x": {"field": "x", "type": "quantitative", "scale": {"domain": [281, 294.1], "reverse": true, "nice": false, "zero": false}, "axis": {"title": "Binding Energy (eV)", "values": [282,283,284,285,286,287,288,289,290,291,292,293,294], "labelExpr": "datum.value % 2 == 0 ? datum.label : ''"}},
        "y": {"field": "y", "type": "quantitative", "scale": {"domain": [0, 100], "nice": false}, "axis": {"title": "Intensity (a.u.)"}},
        "color": {"field": "s", "type": "nominal",
          "scale": {"domain": ["Fitting", "Background", "C-Clow", "C=C", "C-Chigh/Adv. C", "C-O", "C=O", "COO", "π - π*"], "range": ["#e31414", "#7a6410", "#ff85d8", "#ff9f9f", "#ffb685", "#f2c68f", "#efe08e", "#cfe48c", "#34e034"]},
          "legend": {"title": null, "orient": "none", "legendX": 23, "legendY": 27.3, "rowPadding": 2.1, "labelOffset": 1,
            "encode": {"symbols": {"update": {"shape": {"value": "M-4.2,0H1"}, "strokeWidth": {"value": 2.2}, "fill": {"value": "transparent"}}}}}}
      },
      "layer": [
        {"transform": [{"filter": "datum.s != 'C 1s HR spectrum' && datum.s != 'Fitting'"}], "mark": {"type": "line", "strokeWidth": 1.6, "interpolate": "monotone"}},
        {"transform": [{"filter": "datum.s == 'C 1s HR spectrum'"}], "mark": {"type": "point", "filled": false, "size": 24, "strokeWidth": 1.3, "opacity": 1},
         "encoding": {"color": {"value": "#e8302a"}, "shape": {"field": "s", "type": "nominal", "scale": {"domain": ["C 1s HR spectrum"], "range": ["circle"]},
           "legend": {"title": null, "orient": "none", "legendX": 16.7, "legendY": 14.5, "symbolSize": 28, "symbolStrokeWidth": 1.4, "labelOffset": 7.3, "symbolStrokeColor": "#e8302a"}}}},
        {"transform": [{"filter": "datum.s == 'Fitting'"}], "mark": {"type": "line", "strokeWidth": 2.8, "interpolate": "monotone"}}
      ]
    },
    {
      "width": 278, "height": 222.7,
      "title": {"text": "C", "offset": -19, "dx": -17},
      "data": {"name": "o1sC"},
      "encoding": {
        "x": {"field": "x", "type": "quantitative", "scale": {"domain": [529, 539], "reverse": true, "nice": false, "zero": false}, "axis": {"title": "Binding Energy (eV)", "values": [530,531,532,533,534,535,536,537,538], "labelExpr": "datum.value % 2 == 0 ? datum.label : ''"}},
        "y": {"field": "y", "type": "quantitative", "scale": {"domain": [0, 100], "nice": false}, "axis": {"title": "Intensity (a.u.)"}},
        "color": {"field": "s", "type": "nominal",
          "scale": {"domain": ["Fitting", "Background", "C=O", "C-Oaliphatic", "C-Oaromatic", "Ads. O₂/H₂O"], "range": ["#1530b5", "#7a6410", "#ff6fe6", "#d585e8", "#a3abef", "#58d6ec"]},
          "legend": {"title": null, "orient": "none", "legendX": 21.4, "legendY": 28, "rowPadding": 0.8, "labelOffset": 1,
            "encode": {"symbols": {"update": {"shape": {"value": "M-4.2,0H1"}, "strokeWidth": {"value": 2.2}, "fill": {"value": "transparent"}}}}}}
      },
      "layer": [
        {"transform": [{"filter": "datum.s != 'O 1s HR spectrum' && datum.s != 'Fitting'"}], "mark": {"type": "line", "strokeWidth": 1.6, "interpolate": "monotone"}},
        {"transform": [{"filter": "datum.s == 'O 1s HR spectrum'"}], "mark": {"type": "point", "filled": false, "size": 28, "strokeWidth": 1.4, "opacity": 1},
         "encoding": {"color": {"value": "#5b63c9"}, "shape": {"field": "s", "type": "nominal", "scale": {"domain": ["O 1s HR spectrum"], "range": ["circle"]},
           "legend": {"title": null, "orient": "none", "legendX": 9.7, "legendY": 14.5, "symbolSize": 28, "symbolStrokeWidth": 1.4, "labelOffset": 15.5, "symbolStrokeColor": "#5b63c9"}}}},
        {"transform": [{"filter": "datum.s == 'Fitting'"}], "mark": {"type": "line", "strokeWidth": 2.8, "interpolate": "monotone"}}
      ]
    },
    {
      "width": 277, "height": 221.7,
      "title": {"text": "D", "offset": -6.7, "dx": -8},
      "encoding": {
        "x": {"field": "x", "type": "quantitative", "scale": {"domain": [-15, 1350], "reverse": true, "nice": false, "zero": false}, "axis": {"title": "Binding Energy (eV)", "values": [0,100,200,300,400,500,600,700,800,900,1000,1100,1200,1300], "format": "d", "labelExpr": "datum.value % 200 == 0 ? datum.label : ''"}},
        "y": {"field": "y", "type": "quantitative", "scale": {"domain": [0, 100], "nice": false}, "axis": {"title": "Intensity"}}
      },
      "layer": [
        {"data": {"name": "surveyD"}, "mark": {"type": "line", "strokeWidth": 2.2},
         "encoding": {"color": {"field": "s", "type": "nominal", "scale": {"domain": ["ES Lignin CNFs 1000 °C + 20 s O₂*"], "range": ["#ff1f1f"]},
           "legend": {"title": null, "orient": "none", "legendX": 23, "legendY": 15, "labelOffset": 2, "labelFontWeight": "bold", "labelFontSize": 11.5, "labelColor": "#1a1a1a",
             "encode": {"symbols": {"update": {"shape": {"value": "M-4.2,0H1"}, "strokeWidth": {"value": 2.8}, "fill": {"value": "transparent"}}}}}}}},
        {"data": {"name": "annD"}, "transform": [{"filter": "datum.k == 'comp'"}], "mark": {"type": "text", "align": "left"}, "encoding": {"text": {"field": "t"}}},
        {"data": {"name": "annD"}, "transform": [{"filter": "datum.k == 'peak'"}], "mark": {"type": "text", "align": "center"}, "encoding": {"text": {"field": "t"}}}
      ]
    },
    {
      "width": 279, "height": 221.7,
      "title": {"text": "E", "offset": -6.7, "dx": -27},
      "data": {"name": "c1sE"},
      "encoding": {
        "x": {"field": "x", "type": "quantitative", "scale": {"domain": [281, 294.1], "reverse": true, "nice": false, "zero": false}, "axis": {"title": "Binding Energy (eV)", "values": [282,283,284,285,286,287,288,289,290,291,292,293,294], "labelExpr": "datum.value % 2 == 0 ? datum.label : ''"}},
        "y": {"field": "y", "type": "quantitative", "scale": {"domain": [0, 94.5], "nice": false}, "axis": {"title": "Intensity (a.u.)"}},
        "color": {"field": "s", "type": "nominal",
          "scale": {"domain": ["Fitting", "Background", "C-Clow", "C=C", "C-Chigh/Adv. C", "C-O", "C=O", "COO", "π - π*"], "range": ["#e31414", "#7a6410", "#ff85d8", "#ff9f9f", "#ffb685", "#f2c68f", "#efe08e", "#cfe48c", "#34e034"]},
          "legend": {"title": null, "orient": "none", "legendX": 23, "legendY": 22.3, "rowPadding": 1.7, "labelOffset": 1,
            "encode": {"symbols": {"update": {"shape": {"value": "M-4.2,0H1"}, "strokeWidth": {"value": 2.2}, "fill": {"value": "transparent"}}}}}}
      },
      "layer": [
        {"transform": [{"filter": "datum.s != 'C 1s HR spectrum' && datum.s != 'Fitting'"}], "mark": {"type": "line", "strokeWidth": 1.6, "interpolate": "monotone"}},
        {"transform": [{"filter": "datum.s == 'C 1s HR spectrum'"}], "mark": {"type": "point", "filled": false, "size": 24, "strokeWidth": 1.3, "opacity": 1},
         "encoding": {"color": {"value": "#e8302a"}, "shape": {"field": "s", "type": "nominal", "scale": {"domain": ["C 1s HR spectrum"], "range": ["circle"]},
           "legend": {"title": null, "orient": "none", "legendX": 16.7, "legendY": 9.8, "symbolSize": 28, "symbolStrokeWidth": 1.4, "labelOffset": 7.3, "symbolStrokeColor": "#e8302a"}}}},
        {"transform": [{"filter": "datum.s == 'Fitting'"}], "mark": {"type": "line", "strokeWidth": 2.8, "interpolate": "monotone"}}
      ]
    },
    {
      "width": 278, "height": 221.7,
      "title": {"text": "F", "offset": -6.7, "dx": -17},
      "data": {"name": "o1sF"},
      "encoding": {
        "x": {"field": "x", "type": "quantitative", "scale": {"domain": [529, 539], "reverse": true, "nice": false, "zero": false}, "axis": {"title": "Binding Energy (eV)", "values": [530,531,532,533,534,535,536,537,538], "labelExpr": "datum.value % 2 == 0 ? datum.label : ''"}},
        "y": {"field": "y", "type": "quantitative", "scale": {"domain": [0, 100], "nice": false}, "axis": {"title": "Intensity (a.u.)"}},
        "color": {"field": "s", "type": "nominal",
          "scale": {"domain": ["Fitting", "Background", "C=O", "C-Oaliphatic", "C-Oaromatic"], "range": ["#1530b5", "#7a6410", "#ff6fe6", "#d585e8", "#a3abef"]},
          "legend": {"title": null, "orient": "none", "legendX": 21.4, "legendY": 23, "rowPadding": 1.4, "labelOffset": 1,
            "encode": {"symbols": {"update": {"shape": {"value": "M-4.2,0H1"}, "strokeWidth": {"value": 2.2}, "fill": {"value": "transparent"}}}}}}
      },
      "layer": [
        {"transform": [{"filter": "datum.s != 'O 1s HR spectrum' && datum.s != 'Fitting'"}], "mark": {"type": "line", "strokeWidth": 1.6, "interpolate": "monotone"}},
        {"transform": [{"filter": "datum.s == 'O 1s HR spectrum'"}], "mark": {"type": "point", "filled": false, "size": 28, "strokeWidth": 1.4, "opacity": 1},
         "encoding": {"color": {"value": "#5b63c9"}, "shape": {"field": "s", "type": "nominal", "scale": {"domain": ["O 1s HR spectrum"], "range": ["circle"]},
           "legend": {"title": null, "orient": "none", "legendX": 9.7, "legendY": 10.5, "symbolSize": 28, "symbolStrokeWidth": 1.4, "labelOffset": 15.5, "symbolStrokeColor": "#5b63c9"}}}},
        {"transform": [{"filter": "datum.s == 'Fitting'"}], "mark": {"type": "line", "strokeWidth": 2.8, "interpolate": "monotone"}}
      ]
    }
  ]
}
